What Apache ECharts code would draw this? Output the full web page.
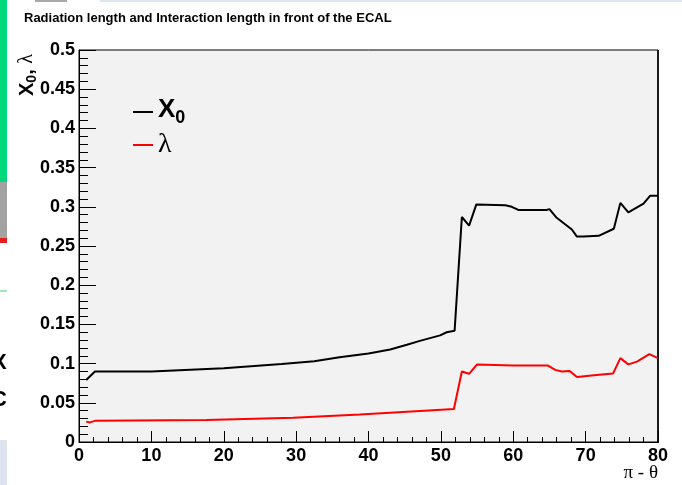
<!DOCTYPE html>
<html>
<head>
<meta charset="utf-8">
<script src="https://cdn.jsdelivr.net/npm/echarts@6/dist/echarts.min.js"></script>
<style>
  html, body { margin: 0; padding: 0; background: #ffffff; }
  #chart { width: 682px; height: 485px; }
</style>
</head>
<body>
<div id="chart"></div>
<script>
// Material in front of the calorimeter versus polar angle (pi - theta, degrees)
const titleText = 'Radiation length and Interaction length in front of the ECAL';

// Radiation length X0: [pi - theta, value]
const radiationLength = [
  [1.0, 0.079], [2.2, 0.090], [10, 0.090], [20, 0.094], [28, 0.0995],
  [32.5, 0.103], [36, 0.108], [40, 0.113], [43, 0.118], [45.3, 0.124],
  [47.1, 0.129], [49.9, 0.136], [50.8, 0.140], [51.9, 0.142],
  [52.9, 0.287], [53.9, 0.276], [54.9, 0.303], [58.9, 0.302], [59.8, 0.300],
  [60.7, 0.296], [64.6, 0.296], [65.0, 0.297], [66.0, 0.286], [68.1, 0.271],
  [68.8, 0.262], [69.7, 0.262], [71.8, 0.263], [73.9, 0.272], [74.8, 0.305],
  [75.9, 0.293], [78.0, 0.304], [78.9, 0.314], [80, 0.314]
];

// Interaction length lambda: [pi - theta, value]
const interactionLength = [
  [1.0, 0.026], [1.5, 0.025], [2.2, 0.027], [17.6, 0.028], [29.6, 0.031],
  [38.8, 0.035], [47.1, 0.0395], [51.8, 0.042], [52.9, 0.090], [53.9, 0.087],
  [55.0, 0.099], [60.0, 0.0975], [64.8, 0.0975], [65.8, 0.092], [66.7, 0.090],
  [67.8, 0.0905], [68.8, 0.083], [71.5, 0.0855], [73.8, 0.0875], [74.8, 0.107],
  [75.9, 0.099], [77.1, 0.1025], [78.8, 0.112], [80, 0.107]
];

const xRange = [0, 80];
const yRange = [0, 0.5];

const chart = echarts.init(document.getElementById('chart'), null, { renderer: 'canvas' });

const labelFont = { fontFamily: 'Liberation Sans', fontWeight: 'bold', fontSize: 18, color: '#000' };

chart.setOption({
  animation: false,
  backgroundColor: '#ffffff',
  title: {
    text: titleText,
    left: 24,
    top: 12,
    padding: 0,
    textStyle: { fontFamily: 'Liberation Sans', fontWeight: 'bold', fontSize: 13, color: '#000' }
  },
  grid: {
    left: 79, top: 50, right: 24, bottom: 43,
    show: true,
    backgroundColor: '#f2f2f2',
    borderColor: '#000',
    borderWidth: 1
  },
  legend: {
    orient: 'vertical',
    left: 133,
    top: 95,
    padding: 0,
    itemWidth: 20,
    itemHeight: 2,
    itemGap: 4,
    icon: 'rect',
    data: ['X0', 'lambda'],
    formatter: function (name) {
      return name === 'X0' ? '{x|X}{s|0}' : '{l|λ}';
    },
    textStyle: {
      rich: {
        x: { fontFamily: 'Liberation Sans', fontWeight: 'bold', fontSize: 26, color: '#000', lineHeight: 30, verticalAlign: 'top' },
        s: { fontFamily: 'Liberation Sans', fontWeight: 'bold', fontSize: 18, color: '#000', lineHeight: 24, verticalAlign: 'bottom', padding: [14, 0, 0, 0] },
        l: { fontFamily: 'Liberation Serif', fontSize: 28, color: '#000', lineHeight: 30 }
      }
    }
  },
  xAxis: {
    type: 'value',
    min: xRange[0], max: xRange[1], interval: 10,
    axisLine: { show: true, onZero: false, lineStyle: { color: '#000', width: 1 } },
    axisTick: { show: true, inside: true, length: 11, lineStyle: { color: '#000' } },
    minorTick: { show: true, splitNumber: 5, length: 5, lineStyle: { color: '#000' } },
    splitLine: { show: false },
    axisLabel: Object.assign({ margin: 5 }, labelFont)
  },
  yAxis: {
    type: 'value',
    min: yRange[0], max: yRange[1], interval: 0.05,
    axisLine: { show: true, onZero: false, lineStyle: { color: '#000', width: 1 } },
    axisTick: { show: true, inside: true, length: 17, lineStyle: { color: '#000' } },
    minorTick: { show: true, splitNumber: 5, length: 9, lineStyle: { color: '#000' } },
    splitLine: { show: false },
    axisLabel: Object.assign({ margin: 4 }, labelFont)
  },
  series: [
    {
      name: 'X0', type: 'line', data: radiationLength,
      symbol: 'none', lineStyle: { color: '#000', width: 2 }, itemStyle: { color: '#000' }
    },
    {
      name: 'lambda', type: 'line', data: interactionLength,
      symbol: 'none', lineStyle: { color: '#ff0000', width: 2 }, itemStyle: { color: '#ff0000' }
    }
  ],
  graphic: [
    // window edges around the canvas
    { type: 'rect', shape: { x: 0, y: 0, width: 7, height: 182 }, style: { fill: '#00d87c' } },
    { type: 'rect', shape: { x: 0, y: 182, width: 7, height: 56 }, style: { fill: '#a3a3a3' } },
    { type: 'rect', shape: { x: 0, y: 238, width: 7, height: 5 }, style: { fill: '#e61e1e' } },
    { type: 'rect', shape: { x: 0, y: 290, width: 7, height: 2 }, style: { fill: '#9ee6bb' } },
    { type: 'rect', shape: { x: 0, y: 440, width: 7, height: 45 }, style: { fill: '#dde3ef' } },
    { type: 'rect', shape: { x: 35, y: 0, width: 32, height: 2 }, style: { fill: '#a8a8a8' } },
    { type: 'rect', shape: { x: 100, y: 0, width: 582, height: 2 }, style: { fill: '#dde6f0' } },
    { type: 'text', left: -8, top: 352, style: { text: 'X', font: 'bold 22px Liberation Sans', fill: '#000' } },
    { type: 'text', left: -9, top: 389, style: { text: 'C', font: 'bold 22px Liberation Sans', fill: '#000' } },
    // shadowed right edge of the frame
    { type: 'rect', shape: { x: 657, y: 50, width: 2, height: 393 }, style: { fill: '#1a1a1a' } },
    // y-axis title
    {
      type: 'text', x: 28, y: 96, rotation: Math.PI / 2,
      style: {
        text: '{x|X}{s|0}{c|, }{l|λ}',
        align: 'left', verticalAlign: 'middle',
        rich: {
          x: { fontFamily: 'Liberation Sans', fontWeight: 'bold', fontSize: 20, fill: '#000', lineHeight: 22, verticalAlign: 'top' },
          s: { fontFamily: 'Liberation Sans', fontWeight: 'bold', fontSize: 14, fill: '#000', lineHeight: 16, verticalAlign: 'bottom', padding: [11, 0, 0, 0] },
          c: { fontFamily: 'Liberation Sans', fontWeight: 'bold', fontSize: 20, fill: '#000', lineHeight: 22, verticalAlign: 'top' },
          l: { fontFamily: 'Liberation Serif', fontSize: 20, fill: '#000', lineHeight: 22, verticalAlign: 'top' }
        }
      }
    },
    // x-axis title
    {
      type: 'text', x: 658, y: 473,
      style: {
        text: 'π - θ', align: 'right', verticalAlign: 'middle',
        font: '19px Liberation Serif', fill: '#000'
      }
    }
  ]
});
</script>
</body>
</html>
